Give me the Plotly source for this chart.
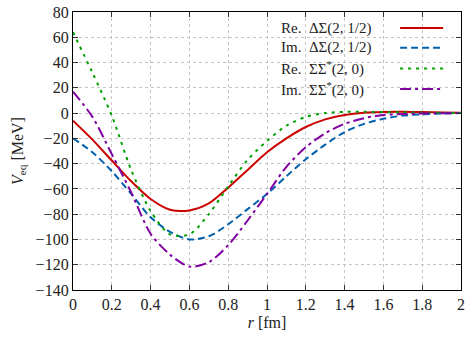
import plotly.graph_objects as go

# radial distance r [fm]
r = [0, 0.1, 0.2, 0.3, 0.4, 0.5, 0.6, 0.7, 0.8, 0.9, 1.0,
     1.1, 1.2, 1.3, 1.4, 1.5, 1.6, 1.7, 1.8, 1.9, 2.0]

# equivalent potentials [MeV]
re_ds = [-6, -21, -37.5, -54, -68, -76.5, -77, -71.5, -59, -45, -31,
         -20, -11, -5, -1.5, 0.3, 0.9, 1, 0.8, 0.5, 0.2]
im_ds = [-20, -31, -46, -64, -82.5, -94, -100, -97.5, -88, -76, -64,
         -50, -36.5, -25, -15, -8.5, -4.5, -2, -1, -0.4, 0]
re_ss = [64, 32, -2, -45, -77.5, -96, -96, -80, -58, -37, -22,
         -10, -3, 0, 1, 1, 0.8, 0.6, 0.4, 0.2, 0.1]
im_ss = [17, -3, -32.5, -62.7, -95.5, -112, -121.5, -118, -104.5, -85, -64,
         -42.5, -27, -16, -8.5, -4, -1.5, -0.8, -0.3, -0.1, 0]

# tick positions / labels
x_ticks = [0, 0.2, 0.4, 0.6, 0.8, 1, 1.2, 1.4, 1.6, 1.8, 2]
x_labels = ["0", "0.2", "0.4", "0.6", "0.8", "1", "1.2", "1.4", "1.6", "1.8", "2"]
y_ticks = [-140, -120, -100, -80, -60, -40, -20, 0, 20, 40, 60, 80]

names = ["Re.  ΔΣ(2, 1/2)", "Im.  ΔΣ(2, 1/2)",
         "Re.  ΣΣ<sup>*</sup>(2, 0)", "Im.  ΣΣ<sup>*</sup>(2, 0)"]
series = [re_ds, im_ds, re_ss, im_ss]
colors = ["#cc0000", "#0060ad", "#00a000", "#8000a0"]
dashes = ["solid", "7px,4px", "3px,5px", "11px,4px,3px,4px"]

FONT = "Liberation Serif, DejaVu Serif, serif"

fig = go.Figure()
for y, c, d in zip(series, colors, dashes):
    fig.add_trace(go.Scatter(x=r, y=y, mode="lines",
                             line=dict(color=c, width=2, dash=d, shape="spline", smoothing=0.8),
                             showlegend=False))

# white legend box (covers grid) + key
fig.add_shape(type="rect", xref="paper", yref="paper", x0=0.52, x1=1, y0=0.683, y1=1,
              fillcolor="white", line_width=0, layer="between")
rows = [0.942, 0.871, 0.797, 0.723]
for name, c, d, yy in zip(names, colors, dashes, rows):
    fig.add_annotation(text=name, xref="paper", yref="paper", x=0.531, y=yy,
                       xanchor="left", yanchor="middle", showarrow=False,
                       font=dict(family=FONT, size=15, color="#222"))
    fig.add_shape(type="line", xref="paper", yref="paper", x0=0.843, x1=0.954, y0=yy, y1=yy,
                  line=dict(color=c, width=2, dash=d))

axis = dict(showline=True, linecolor="black", linewidth=1.3, mirror="allticks",
            ticks="inside", ticklen=5, tickwidth=1.3, tickcolor="#333",
            showgrid=True, gridcolor="#c4c4c4", griddash="dot", gridwidth=1,
            zeroline=False, automargin=False,
            tickfont=dict(family=FONT, size=16, color="#222"))

fig.update_xaxes(axis, range=[0, 2], tickmode="array", tickvals=x_ticks, ticktext=x_labels,
                 title=dict(text="<i>r</i> [fm]", font=dict(family=FONT, size=16, color="#222"), standoff=4))
fig.update_yaxes(axis, range=[-140, 80], tickmode="array", tickvals=y_ticks,
                 title=dict(text="<i>V</i><sub>eq</sub> [MeV]", font=dict(family=FONT, size=16, color="#222"), standoff=8))

fig.update_layout(width=469, height=339, margin=dict(l=73, r=8, t=12, b=49),
                  plot_bgcolor="white", paper_bgcolor="white", showlegend=False)

fig.write_html("out.html", config={"displayModeBar": False},
               post_script="document.body.style.margin='0';")
